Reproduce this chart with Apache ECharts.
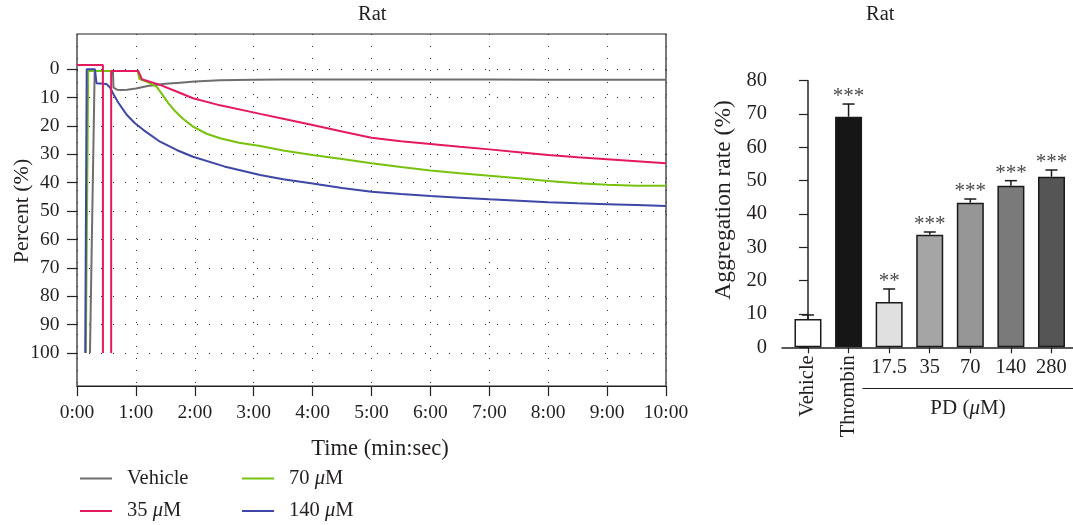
<!DOCTYPE html>
<html><head><meta charset="utf-8">
<script src="https://cdn.jsdelivr.net/npm/echarts@6/dist/echarts.min.js"></script>
<style>html,body{margin:0;padding:0;background:#fff}#c{width:1073px;height:525px}</style>
</head><body><div id="c"></div>
<script>
const FONT = 'Liberation Serif';
const TXT = '#231f20';

// ---- Left chart: aggregation traces (time in minutes, percent) ----
const timeTicks = [0,1,2,3,4,5,6,7,8,9,10];
const percentTicks = [0,10,20,30,40,50,60,70,80,90,100];
const vehicle = [[0.22,100],[0.30,0.7],[0.61,0.7],[0.62,6.6],[0.68,7.3],[0.75,7.4],[0.85,7.3],[1.0,6.9],[1.2,6.0],[1.5,5.2],[1.75,4.8],[2.0,4.4],[2.43,4.0],[3.0,3.8],[3.5,3.7],[4,3.7],[5,3.7],[6,3.7],[7,3.7],[8,3.8],[9,3.8],[10,3.8]];
const um35 = [[0,-1.4],[0.44,-1.4],[0.44,100],[0.51,'-'],[0.58,100],[0.58,0.7],[1.04,0.7],[1.1,3.6],[1.41,5.6],[1.7,8.0],[1.97,10.3],[2.43,12.8],[3.11,15.8],[3.5,17.5],[4,19.7],[4.5,22.0],[5,24.2],[5.5,25.4],[6,26.4],[6.5,27.4],[7,28.3],[7.5,29.3],[8,30.3],[8.5,31.1],[9,31.8],[9.5,32.5],[10,33.2]];
const um70 = [[0.15,100],[0.19,0.7],[1.03,0.7],[1.06,3.5],[1.2,4.6],[1.35,6.2],[1.45,9.0],[1.55,12.0],[1.65,14.5],[1.8,17.5],[1.97,20.3],[2.2,22.8],[2.43,24.4],[2.75,26.0],[3.11,27.1],[3.5,28.7],[4,30.3],[4.5,31.7],[5,33.2],[5.5,34.5],[6,35.7],[6.5,36.7],[7,37.6],[7.5,38.5],[8,39.4],[8.5,40.2],[9,40.8],[9.5,41.1],[10,41.1]];
const um140 = [[0.14,100],[0.165,0.1],[0.305,0.1],[0.33,5.0],[0.5,5.3],[0.56,6.5],[0.62,8.9],[0.7,11.8],[0.84,16.0],[0.98,19.0],[1.13,21.5],[1.41,25.6],[1.7,28.6],[1.97,30.9],[2.5,34.3],[3.11,37.3],[3.5,38.8],[4,40.3],[4.5,41.9],[5,43.2],[5.5,44.0],[6,44.7],[6.5,45.3],[7,45.9],[7.5,46.4],[8,46.9],[8.5,47.3],[9,47.6],[9.5,47.9],[10,48.2]];

// ---- Right chart: aggregation rate bars ----
const barCats = ['Vehicle','Thrombin','17.5','35','70','140','280'];
const barVals = [8.5,69.2,13.6,33.8,43.4,48.5,51.2];
const barErr = [1.2,3.8,3.9,0.8,1.1,1.5,2.0];
const barStars = ['','***','**','***','***','***','***'];
const barColors = ['#ffffff','#161616','#e0e0e0','#a5a5a5','#969696','#7a7a7a','#555555'];
const aggTicks = [0,10,20,30,40,50,60,70,80];

const catIdx = barCats.map((c,i)=>i);
const dotted = {type:[1,11], color:'#333', width:1};
const ts = (sz)=>({fontFamily:FONT, fontSize:sz, color:TXT});
const richOf = sz => ({i:{fontFamily:FONT, fontSize:sz, fontStyle:'italic', color:TXT}});
const muFmt = n => n.replace('μ','{i|μ}');

const chart = echarts.init(document.getElementById('c'), null, {renderer:'canvas'});
const lineSeries = (name, data, color) => ({
  name, type:'line', data, xAxisIndex:1, yAxisIndex:1, symbol:'none', showSymbol:false,
  clip:false, color, lineStyle:{width:2, color}, animation:false
});
const G = {containLabel:false, outerBoundsMode:'none'};
const legendBase = {orient:'vertical', top:468, padding:0, icon:'rect', itemWidth:32, itemHeight:2, itemGap:11.5,
  textStyle:{...ts(20.5), padding:[0,0,0,10], rich:richOf(20.5)}, formatter:muFmt};

chart.setOption({
  animation:false,
  title:[
    {text:'Rat', left:358, top:4, padding:0, textStyle:{...ts(20.5), fontWeight:'normal'}},
    {text:'Rat', left:866, top:4, padding:0, textStyle:{...ts(20.5), fontWeight:'normal'}}
  ],
  grid:[
    {...G, left:77, top:34, width:589, height:352, show:true, borderColor:'#222', borderWidth:1.2},
    {...G, left:77, top:69, width:589, height:284},
    {...G, left:782, top:80.7, width:291, height:266.6},
    {...G, left:863, top:300, width:210, height:88}
  ],
  xAxis:[
    {gridIndex:0, type:'value', min:0, max:10, interval:1,
     axisLine:{show:true, lineStyle:{color:'#222', width:1.2}},
     axisTick:{show:true, length:10, lineStyle:{color:'#222', width:1.2}},
     axisLabel:{...ts(19.5), margin:16.5, formatter:v=>v+':00'},
     splitLine:{show:true, lineStyle:dotted},
     name:'Time (min:sec)', nameLocation:'middle', nameGap:52, nameMoveOverlap:false,
     nameTextStyle:{...ts(22.5), padding:[0,0,0,17]}},
    {gridIndex:1, type:'value', min:0, max:10, show:false},
    {gridIndex:2, type:'value', position:'bottom', min:-0.64, max:6.53,
     axisLine:{show:true, lineStyle:{color:'#222', width:1.5}},
     axisTick:{show:true, length:6, customValues:catIdx, lineStyle:{color:'#222', width:1.2}},
     axisLabel:{...ts(20.5), margin:10, customValues:[2,3,4,5,6], formatter:v=>barCats[v]},
     splitLine:{show:false}},
    {gridIndex:2, type:'value', position:'bottom', min:-0.64, max:6.53,
     axisLine:{show:false}, axisTick:{show:false},
     axisLabel:{...ts(20.5), margin:8, rotate:90, customValues:[0,1], formatter:v=>barCats[v]},
     splitLine:{show:false}},
    {gridIndex:3, type:'value', min:0, max:1,
     axisLine:{show:true, lineStyle:{color:'#222', width:1.2}}, axisTick:{show:false}, axisLabel:{show:false},
     splitLine:{show:false},
     name:'PD ({i|μ}M)', nameLocation:'middle', nameGap:10, nameMoveOverlap:false, nameTextStyle:{...ts(21), rich:richOf(21)}}
  ],
  yAxis:[
    {gridIndex:0, type:'value', min:0, max:1, show:false},
    {gridIndex:1, type:'value', inverse:true, min:0, max:100, interval:10,
     axisLine:{show:false},
     axisTick:{show:true, length:10, lineStyle:{color:'#222', width:1.2}},
     axisLabel:{...ts(19.5), margin:17.5},
     splitLine:{show:true, lineStyle:dotted},
     name:'Percent (%)', nameLocation:'middle', nameGap:44, nameMoveOverlap:false, nameTextStyle:ts(22)},
    {gridIndex:2, type:'value', min:0, max:80, interval:10,
     axisLine:{show:true, lineStyle:{color:'#222', width:1.5}},
     axisTick:{show:true, length:9, lineStyle:{color:'#222', width:1.2}},
     axisLabel:{...ts(20.5), margin:15},
     splitLine:{show:false},
     name:'Aggregation rate (%)', nameLocation:'middle', nameGap:46, nameMoveOverlap:false,
     nameTextStyle:{...ts(23.5), padding:[0,0,0,28]}},
    {gridIndex:3, type:'value', show:false}
  ],
  legend:[
    {...legendBase, data:['Vehicle','35 μM'], left:80},
    {...legendBase, data:['70 μM','140 μM'], left:242}
  ],
  series:[
    lineSeries('Vehicle', vehicle, '#6e6e6e'),
    lineSeries('70 μM', um70, '#77c20c'),
    lineSeries('140 μM', um140, '#3e46a6'),
    lineSeries('35 μM', um35, '#e5195e'),
    {type:'bar', xAxisIndex:2, yAxisIndex:2, barWidth:27,
     data:barVals.map((v,i)=>({value:[i,v], itemStyle:{color:barColors[i]}})),
     itemStyle:{borderColor:'#1a1a1a', borderWidth:1.5}},
    {type:'custom', xAxisIndex:2, yAxisIndex:2, z:5,
     data:barVals.map((v,i)=>[i, v, v+barErr[i]]),
     renderItem:(params, api)=>{
       const i = api.value(0);
       const top = api.coord([i, api.value(1)]);
       const hi = api.coord([i, api.value(2)]);
       return {type:'group', children:[
         {type:'line', shape:{x1:top[0], y1:top[1], x2:hi[0], y2:hi[1]}, style:{stroke:'#1a1a1a', lineWidth:1.5}},
         {type:'line', shape:{x1:hi[0]-6, y1:hi[1], x2:hi[0]+6, y2:hi[1]}, style:{stroke:'#1a1a1a', lineWidth:1.5}},
         {type:'text', style:{text:barStars[i], x:hi[0], y:hi[1]+3, align:'center', verticalAlign:'bottom',
           fontFamily:FONT, fontSize:21, fill:'#4a4a4a'}}
       ]};
     }}
  ]
});
</script></body></html>
